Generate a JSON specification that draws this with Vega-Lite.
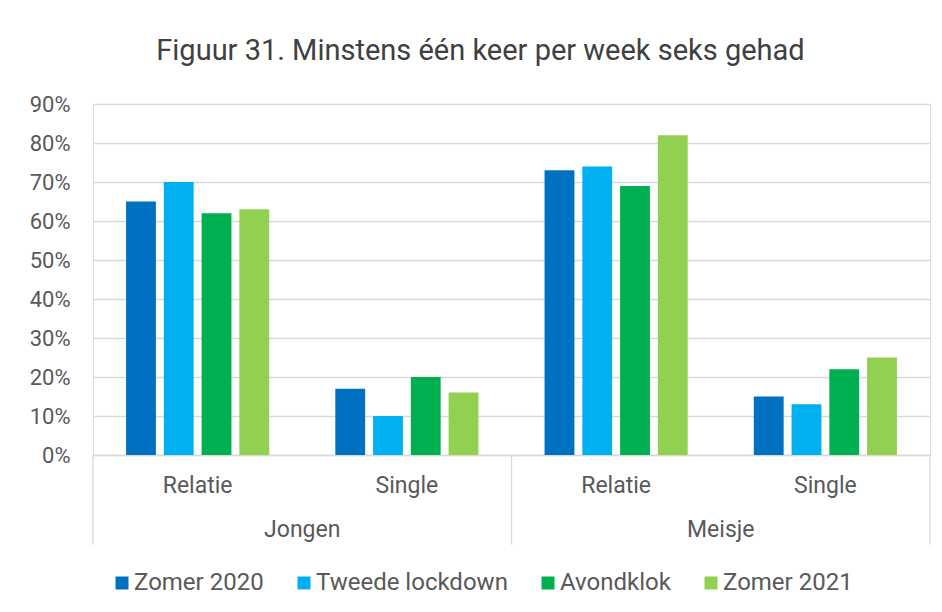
{
  "$schema": "https://vega.github.io/schema/vega-lite/v6.json",
  "width": 837,
  "height": 351,
  "autosize": {"type": "none"},
  "padding": {"left": 93, "top": 104, "right": 12, "bottom": 157},
  "background": "white",
  "title": {
    "text": "Figuur 31. Minstens één keer per week seks gehad",
    "fontSize": 29,
    "font": "Roboto",
    "fontWeight": "normal",
    "color": "#404040",
    "anchor": "middle",
    "frame": "group",
    "dx": -31,
    "offset": 27
  },
  "datasets": {
    "bars": [
      {"cat": "Jongen|Relatie", "series": "Zomer 2020", "value": 65},
      {"cat": "Jongen|Relatie", "series": "Tweede lockdown", "value": 70},
      {"cat": "Jongen|Relatie", "series": "Avondklok", "value": 62},
      {"cat": "Jongen|Relatie", "series": "Zomer 2021", "value": 63},
      {"cat": "Jongen|Single", "series": "Zomer 2020", "value": 17},
      {"cat": "Jongen|Single", "series": "Tweede lockdown", "value": 10},
      {"cat": "Jongen|Single", "series": "Avondklok", "value": 20},
      {"cat": "Jongen|Single", "series": "Zomer 2021", "value": 16},
      {"cat": "Meisje|Relatie", "series": "Zomer 2020", "value": 73},
      {"cat": "Meisje|Relatie", "series": "Tweede lockdown", "value": 74},
      {"cat": "Meisje|Relatie", "series": "Avondklok", "value": 69},
      {"cat": "Meisje|Relatie", "series": "Zomer 2021", "value": 82},
      {"cat": "Meisje|Single", "series": "Zomer 2020", "value": 15},
      {"cat": "Meisje|Single", "series": "Tweede lockdown", "value": 13},
      {"cat": "Meisje|Single", "series": "Avondklok", "value": 22},
      {"cat": "Meisje|Single", "series": "Zomer 2021", "value": 25}
    ],
    "genders": [
      {"gender": "Jongen"},
      {"gender": "Meisje"}
    ],
    "ends": [
      {"gender": "Meisje"}
    ]
  },
  "layer": [
    {
      "data": {"name": "bars"},
      "mark": {"type": "bar"},
      "encoding": {
        "x": {
          "field": "cat",
          "type": "nominal",
          "sort": null,
          "scale": {"paddingInner": 0.316, "paddingOuter": 0.158},
          "axis": {
            "title": null,
            "labelExpr": "split(datum.label, '|')[1]",
            "ticks": false,
            "domain": true,
            "domainColor": "#d9d9d9",
            "domainWidth": 1.3,
            "labelPadding": 19,
            "labelFontSize": 23,
            "labelFont": "Roboto",
            "labelColor": "#595959",
            "labelAngle": 0,
            "grid": false
          }
        },
        "xOffset": {
          "field": "series",
          "type": "nominal",
          "sort": ["Zomer 2020", "Tweede lockdown", "Avondklok", "Zomer 2021"],
          "scale": {"paddingInner": 0.21, "paddingOuter": 0}
        },
        "y": {
          "field": "value",
          "type": "quantitative",
          "scale": {"domain": [0, 90], "nice": false},
          "axis": {
            "title": null,
            "values": [0, 10, 20, 30, 40, 50, 60, 70, 80, 90],
            "tickCount": 10,
            "labelExpr": "datum.value + '%'",
            "labelOverlap": false,
            "grid": true,
            "gridColor": "#d9d9d9",
            "gridWidth": 1.3,
            "domain": false,
            "ticks": false,
            "labelPadding": 23,
            "labelFontSize": 22,
            "labelFont": "Roboto",
            "labelColor": "#595959"
          }
        },
        "color": {
          "field": "series",
          "type": "nominal",
          "scale": {
            "domain": ["Zomer 2020", "Tweede lockdown", "Avondklok", "Zomer 2021"],
            "range": ["#0070C0", "#00B0F0", "#00B050", "#92D050"]
          },
          "legend": {
            "title": null,
            "orient": "none",
            "legendX": 17,
            "legendY": 467,
            "direction": "horizontal",
            "symbolType": "square",
            "symbolSize": 169,
            "symbolStrokeWidth": 0,
            "labelFontSize": 24,
            "labelFont": "Roboto",
            "labelColor": "#595959",
            "labelLimit": 400,
            "columnPadding": 28,
            "labelOffset": 0
          }
        }
      }
    },
    {
      "layer": [
        {
          "data": {"name": "genders"},
          "mark": {"type": "rule", "color": "#d9d9d9", "strokeWidth": 1.3},
          "encoding": {
            "x": {
              "field": "gender",
              "type": "nominal",
              "bandPosition": 0,
              "scale": {"paddingInner": 0, "paddingOuter": 0},
              "axis": {
                "title": null,
                "orient": "bottom",
                "bandPosition": 0.5,
                "ticks": false,
                "domain": false,
                "grid": false,
                "labelPadding": 63,
                "labelFontSize": 23,
                "labelFont": "Roboto",
                "labelColor": "#595959",
                "labelAngle": 0
              }
            },
            "y": {
              "datum": 0,
              "type": "quantitative",
              "axis": {
                "title": null,
                "values": [0, 10, 20, 30, 40, 50, 60, 70, 80, 90],
                "tickCount": 10,
                "labelExpr": "datum.value + '%'",
                "labelOverlap": false,
                "grid": true,
                "gridColor": "#d9d9d9",
                "gridWidth": 1.3,
                "domain": false,
                "ticks": false,
                "labelPadding": 23,
                "labelFontSize": 22,
                "labelFont": "Roboto",
                "labelColor": "#595959"
              }
            },
            "y2": {"datum": -23}
          }
        },
        {
          "data": {"name": "ends"},
          "mark": {"type": "rule", "color": "#d9d9d9", "strokeWidth": 1.3},
          "encoding": {
            "x": {
              "field": "gender",
              "type": "nominal",
              "bandPosition": 1,
              "axis": {
                "title": null,
                "orient": "bottom",
                "bandPosition": 0.5,
                "ticks": false,
                "domain": false,
                "grid": false,
                "labelPadding": 63,
                "labelFontSize": 23,
                "labelFont": "Roboto",
                "labelColor": "#595959",
                "labelAngle": 0
              }
            },
            "y": {
              "datum": 0,
              "type": "quantitative",
              "axis": {
                "title": null,
                "values": [0, 10, 20, 30, 40, 50, 60, 70, 80, 90],
                "tickCount": 10,
                "labelExpr": "datum.value + '%'",
                "labelOverlap": false,
                "grid": true,
                "gridColor": "#d9d9d9",
                "gridWidth": 1.3,
                "domain": false,
                "ticks": false,
                "labelPadding": 23,
                "labelFontSize": 22,
                "labelFont": "Roboto",
                "labelColor": "#595959"
              }
            },
            "y2": {"datum": -23}
          }
        }
      ]
    }
  ],
  "resolve": {"scale": {"x": "independent"}}
}
